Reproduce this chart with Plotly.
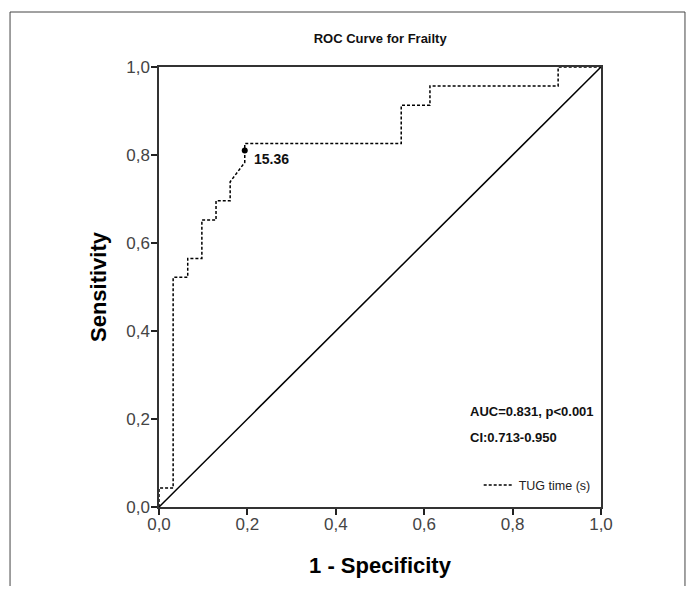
import plotly.graph_objects as go

# ROC curve for TUG time (s)
fpr = [0.0, 0.0, 0.032, 0.032, 0.065, 0.065, 0.097, 0.097, 0.129, 0.129,
       0.161, 0.161, 0.194, 0.194, 0.548, 0.548, 0.613, 0.613, 0.903, 0.903, 1.0]
tpr = [0.0, 0.043, 0.043, 0.522, 0.522, 0.565, 0.565, 0.652, 0.652, 0.696,
       0.696, 0.739, 0.783, 0.826, 0.826, 0.913, 0.913, 0.957, 0.957, 1.0, 1.0]
ref_x = [0.0, 1.0]
ref_y = [0.0, 1.0]
cut_x = [0.194]
cut_y = [0.81]
cut_label = "15.36"
tick_vals = [0.0, 0.2, 0.4, 0.6, 0.8, 1.0]
tick_text = ["0,0", "0,2", "0,4", "0,6", "0,8", "1,0"]
series_name = "TUG time (s)"
stats_lines = ["AUC=0.831, p<0.001", "CI:0.713-0.950"]

FONT = "Liberation Sans, Arial, sans-serif"

fig = go.Figure()
fig.add_trace(go.Scatter(x=ref_x, y=ref_y, mode="lines",
                         line=dict(color="black", width=1.5),
                         showlegend=False, hoverinfo="skip"))
fig.add_trace(go.Scatter(x=fpr, y=tpr, mode="lines", name=series_name,
                         line=dict(color="black", width=1.5, dash="3px,2px"),
                         showlegend=True))
fig.add_trace(go.Scatter(x=cut_x, y=cut_y, mode="markers",
                         marker=dict(color="black", size=6, symbol="circle"),
                         showlegend=False))

fig.add_annotation(x=cut_x[0], y=cut_y[0], xref="x", yref="y", text="<b>" + cut_label + "</b>",
                   showarrow=False, xanchor="left", yanchor="middle", xshift=7, yshift=-8,
                   font=dict(family=FONT, size=14, color="#111"))
fig.add_annotation(x=0.699, y=0.218, xref="x", yref="y", text="<b>" + stats_lines[0] + "</b>",
                   showarrow=False, xanchor="left", yanchor="middle",
                   font=dict(family=FONT, size=13, color="#111"))
fig.add_annotation(x=0.699, y=0.157, xref="x", yref="y", text="<b>" + stats_lines[1] + "</b>",
                   showarrow=False, xanchor="left", yanchor="middle",
                   font=dict(family=FONT, size=13, color="#111"))

# outer frame
fig.add_shape(type="rect", xref="paper", yref="paper",
              x0=-0.337, x1=1.19, y0=-0.35, y1=1.125,
              line=dict(color="#444", width=1), layer="below")

axis_common = dict(range=[0, 1], tickvals=tick_vals, ticktext=tick_text,
                   showgrid=False, zeroline=False, showline=True, mirror=True,
                   linecolor="#333", linewidth=1.5, ticks="outside", ticklen=6,
                   tickcolor="#222", tickwidth=1.5,
                   tickfont=dict(family=FONT, size=17, color="#444"))

fig.update_xaxes(**axis_common, ticklabelstandoff=-5,
                 title=dict(text="<b>1 - Specificity</b>", standoff=24,
                            font=dict(family=FONT, size=22, color="black")))
fig.update_yaxes(**axis_common, ticklabelstandoff=-2,
                 title=dict(text="<b>Sensitivity</b>", standoff=14,
                            font=dict(family=FONT, size=22, color="black")))

fig.update_layout(
    width=688, height=578,
    margin=dict(l=151, r=95, t=59, b=79),
    paper_bgcolor="white", plot_bgcolor="white",
    title=dict(text="<b>ROC Curve for Frailty</b>", x=0.541, xanchor="center",
               y=0.948, yanchor="middle",
               font=dict(family=FONT, size=13, color="#111")),
    legend=dict(x=0.988, y=0.015, xanchor="right", yanchor="bottom",
                bgcolor="rgba(0,0,0,0)", borderwidth=0,
                font=dict(family=FONT, size=12.5, color="#222"),
                itemwidth=30),
    showlegend=True,
)

fig.write_html("out.html")
